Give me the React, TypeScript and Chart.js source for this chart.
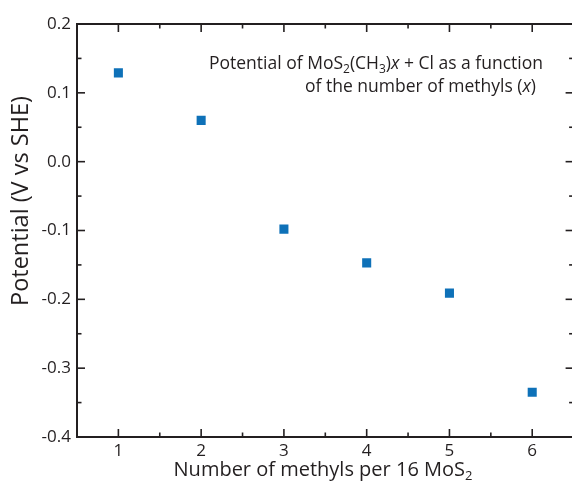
import { useEffect, useRef } from 'react';
import { Chart, registerables } from 'chart.js';

Chart.register(...registerables);

// Computed redox potential vs. number of methyl groups per 16 MoS2 units
const methylCounts = [1, 2, 3, 4, 5, 6];
const potentials = [0.129, 0.06, -0.098, -0.147, -0.191, -0.335];

const xMajorTicks = [1, 2, 3, 4, 5, 6];
const xMinorTicks = [1.5, 2.5, 3.5, 4.5, 5.5];
const yMajorTicks = [-0.4, -0.3, -0.2, -0.1, 0.0, 0.1, 0.2];
const yMinorTicks = [-0.35, -0.25, -0.15, -0.05, 0.05, 0.15];

const FONT = '"Open Sans"';
const INK = '#231f20';
const MARKER = '#0e71b8';

const CANVAS_W = 580;
const CANVAS_H = 485;

type Seg = { t: string; sub?: boolean; it?: boolean };

function segFont(s: Seg, size: number) {
  const sz = s.sub ? Math.round(size * 0.66) : size;
  return `${s.it ? 'italic ' : ''}${sz}px ${FONT}`;
}

// draws a run of text pieces with subscripts / italics
function drawRich(ctx: CanvasRenderingContext2D, segs: Seg[], x: number, y: number, size: number, align: 'right' | 'center' | 'left') {
  let total = 0;
  for (const s of segs) {
    ctx.font = segFont(s, size);
    total += ctx.measureText(s.t).width;
  }
  let cx = align === 'right' ? x - total : align === 'center' ? x - total / 2 : x;
  ctx.textAlign = 'left';
  ctx.textBaseline = 'alphabetic';
  for (const s of segs) {
    ctx.font = segFont(s, size);
    ctx.fillText(s.t, cx, s.sub ? y + size * 0.22 : y);
    cx += ctx.measureText(s.t).width;
  }
}

const framePlugin = {
  id: 'frameAndText',
  afterDraw(chart: any) {
    const ctx: CanvasRenderingContext2D = chart.ctx;
    const { left, right, top, bottom } = chart.chartArea;
    const xs = chart.scales.x;
    const ys = chart.scales.y;
    ctx.save();
    ctx.strokeStyle = INK;
    ctx.fillStyle = INK;
    ctx.lineWidth = 1.6;

    const tick = (x1: number, y1: number, x2: number, y2: number) => {
      ctx.beginPath();
      ctx.moveTo(x1, y1);
      ctx.lineTo(x2, y2);
      ctx.stroke();
    };
    const MAJ = 8;
    const MIN = 4.5;
    for (const v of xMajorTicks) {
      const px = xs.getPixelForValue(v);
      tick(px, bottom, px, bottom - MAJ);
      tick(px, top, px, top + MAJ);
    }
    for (const v of xMinorTicks) {
      const px = xs.getPixelForValue(v);
      tick(px, bottom, px, bottom - MIN);
      tick(px, top, px, top + MIN);
    }
    for (const v of yMajorTicks) {
      const py = ys.getPixelForValue(v);
      tick(left, py, left + MAJ, py);
      tick(right, py, right - MAJ, py);
    }
    for (const v of yMinorTicks) {
      const py = ys.getPixelForValue(v);
      tick(left, py, left + MIN, py);
      tick(right, py, right - MIN, py);
    }

    ctx.lineWidth = 2;
    ctx.strokeRect(left, top, right - left, bottom - top);

    // axis titles
    drawRich(ctx, [{ t: 'Number of methyls per 16 MoS' }, { t: '2', sub: true }], 323, 476, 20, 'center');
    ctx.save();
    ctx.translate(28, 201);
    ctx.rotate(-Math.PI / 2);
    drawRich(ctx, [{ t: 'Potential (V vs SHE)' }], 0, 0, 23.5, 'center');
    ctx.restore();

    // in-plot annotation
    drawRich(
      ctx,
      [
        { t: 'Potential of MoS' },
        { t: '2', sub: true },
        { t: '(CH' },
        { t: '3', sub: true },
        { t: ')' },
        { t: 'x', it: true },
        { t: ' + Cl as a function' },
      ],
      543,
      69,
      17.5,
      'right'
    );
    drawRich(
      ctx,
      [{ t: 'of the number of methyls (' }, { t: 'x', it: true }, { t: ')' }],
      536,
      92,
      17.5,
      'right'
    );
    ctx.restore();
  },
};

export default function App() {
  const ref = useRef<HTMLCanvasElement | null>(null);

  useEffect(() => {
    if (!ref.current) return;
    const chart = new Chart(ref.current, {
      type: 'scatter',
      data: {
        datasets: [
          {
            data: methylCounts.map((x, i) => ({ x, y: potentials[i] })),
            pointStyle: 'rect',
            pointRadius: 6.4,
            pointBorderWidth: 0,
            backgroundColor: MARKER,
            borderColor: MARKER,
          },
        ],
      },
      options: {
        responsive: false,
        animation: false,
        devicePixelRatio: 1,
        layout: { padding: { top: 24, right: CANVAS_W - 575, left: 0, bottom: 0 } },
        plugins: { legend: { display: false }, tooltip: { enabled: false } },
        scales: {
          x: {
            type: 'linear',
            min: 0.5,
            max: 6.5,
            grid: { display: false, drawTicks: false },
            border: { display: false },
            afterBuildTicks: (s: any) => {
              s.ticks = xMajorTicks.map((v) => ({ value: v }));
            },
            afterFit: (s: any) => {
              s.height = CANVAS_H - 437;
            },
            ticks: {
              padding: 4,
              color: INK,
              font: { family: FONT, size: 17 },
              callback: (v: any) => String(v),
            },
          },
          y: {
            type: 'linear',
            min: -0.4,
            max: 0.2,
            grid: { display: false, drawTicks: false },
            border: { display: false },
            afterBuildTicks: (s: any) => {
              s.ticks = yMajorTicks.map((v) => ({ value: v }));
            },
            afterFit: (s: any) => {
              s.width = 77;
            },
            ticks: {
              padding: 6,
              color: INK,
              font: { family: FONT, size: 17 },
              callback: (v: any) => Number(v).toFixed(1),
            },
          },
        },
      },
      plugins: [framePlugin],
    });
    return () => chart.destroy();
  }, []);

  return (
    <div
      style={{
        position: 'absolute',
        left: 0,
        top: 0,
        width: 572,
        height: 485,
        overflow: 'hidden',
        background: '#fff',
      }}
    >
      <canvas ref={ref} width={CANVAS_W} height={CANVAS_H} style={{ display: 'block' }} />
    </div>
  );
}
